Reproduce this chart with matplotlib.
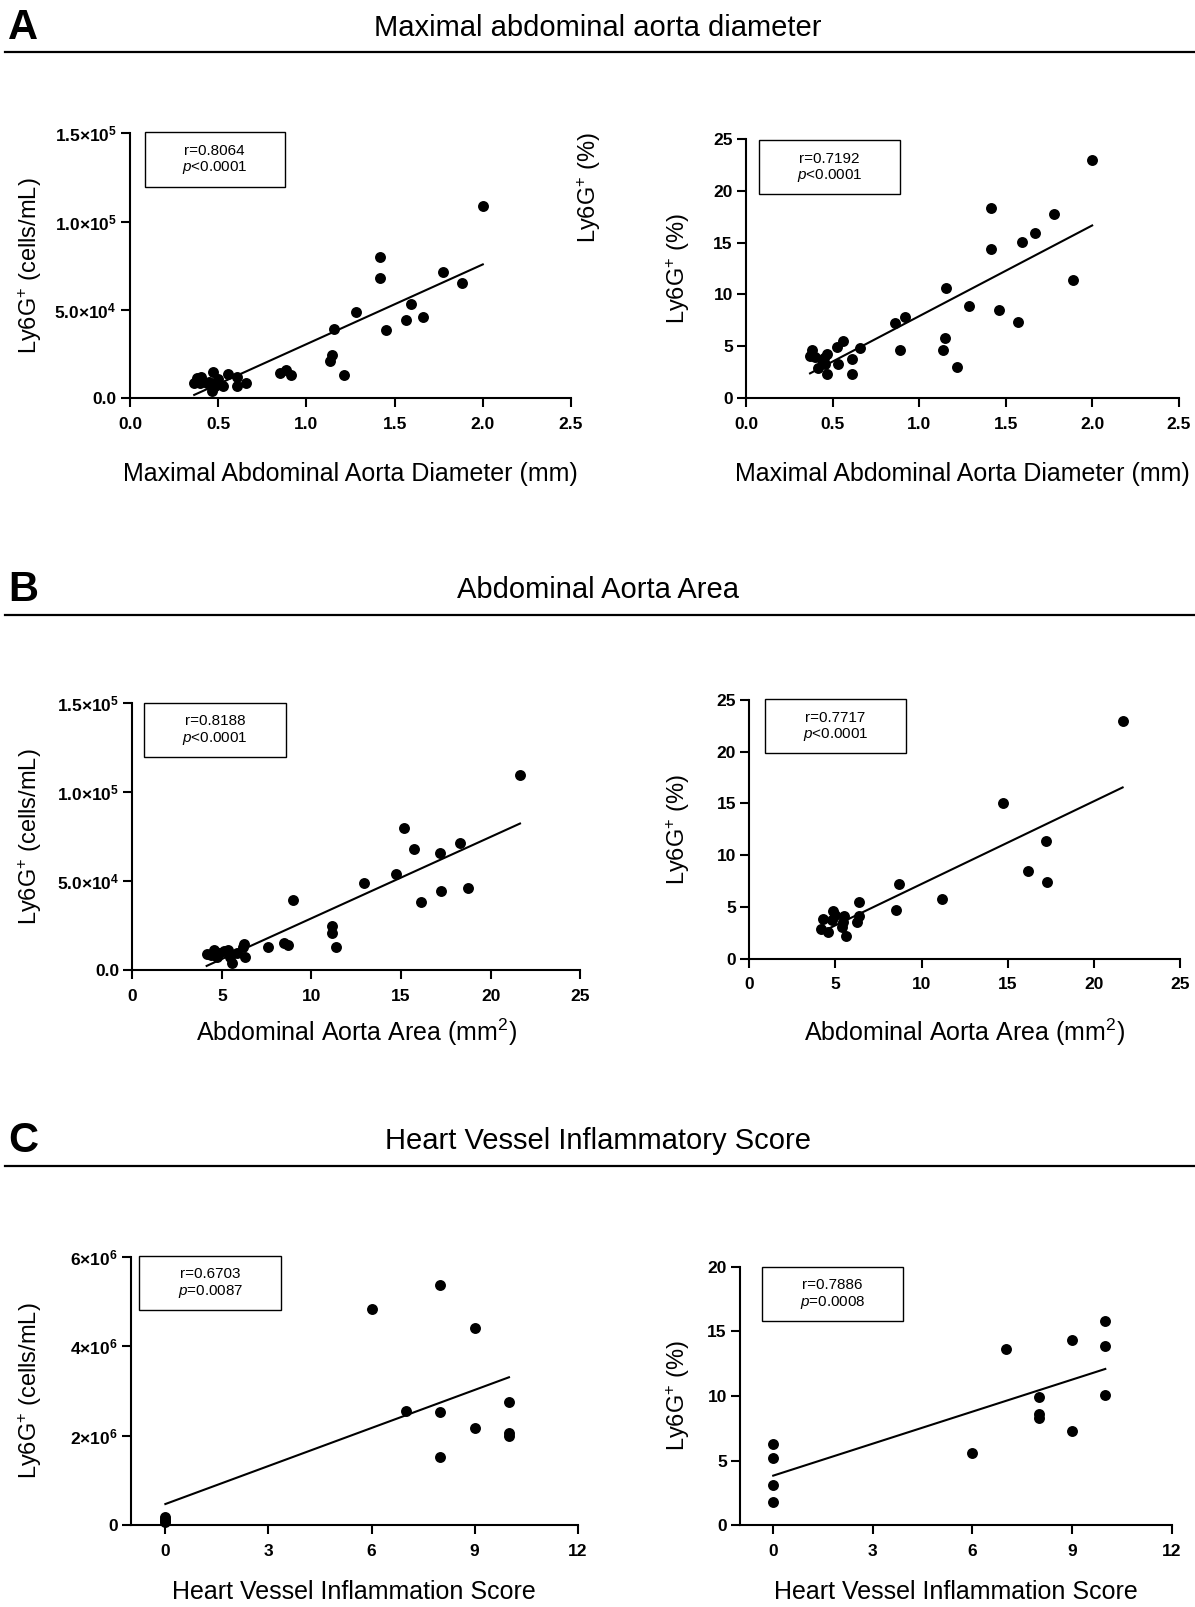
import numpy as np
import matplotlib
matplotlib.use("Agg")
import matplotlib.pyplot as plt
from matplotlib.patches import Rectangle
from matplotlib.lines import Line2D

plt.rcParams['font.family'] = ['Liberation Sans', 'DejaVu Sans']
plt.rcParams['mathtext.fontset'] = 'custom'
plt.rcParams['mathtext.rm'] = 'Liberation Sans'
plt.rcParams['mathtext.it'] = 'Liberation Sans:italic'
plt.rcParams['mathtext.bf'] = 'Liberation Sans:bold'

W, H = 1195, 1607
DPI = 100

# ---------------- data ----------------
# Panel A: maximal abdominal aorta diameter (mm)
xA_cells = [2.0, 1.415, 1.415, 1.774, 1.883, 1.591, 1.660, 1.562, 1.451, 1.283, 1.155, 1.147, 1.132,
            1.213, 0.849, 0.883, 0.915, 0.657, 0.604, 0.604, 0.553, 0.525, 0.472, 0.466, 0.434, 0.377,
            0.364, 0.396, 0.41, 0.45, 0.50, 0.48, 0.40]
yA_cells = [109000, 79800, 67900, 71500, 65500, 53600, 46200, 44300, 38700, 48900, 39200, 24300, 21300,
            13200, 14200, 16000, 13400, 8900, 7200, 12300, 13800, 7200, 14700, 4300, 8500, 11300,
            8500, 8500, 10000, 9500, 11000, 7000, 12000]
xA_pct = [2.0, 1.418, 1.418, 1.780, 1.671, 1.597, 1.890, 1.460, 1.570, 1.289, 1.158, 1.150, 1.141,
          1.218, 0.919, 0.859, 0.890, 0.659, 0.611, 0.611, 0.563, 0.526, 0.530, 0.470, 0.470, 0.382,
          0.370, 0.418, 0.437, 0.40, 0.455, 0.45]
yA_pct = [22.97, 18.37, 14.38, 17.76, 15.96, 15.06, 11.36, 8.49, 7.37, 8.88, 10.65, 5.76, 4.67,
          2.99, 7.79, 7.21, 4.67, 4.86, 3.76, 2.35, 5.50, 4.96, 3.25, 4.21, 2.32, 4.63,
          4.05, 2.86, 3.67, 4.0, 3.3, 3.9]

# Panel B: abdominal aorta area (mm2)
xB_cells = [21.64, 15.16, 15.72, 18.29, 17.17, 14.70, 18.72, 17.25, 16.11, 12.95, 8.97, 11.16, 11.16,
            11.39, 7.59, 8.45, 8.67, 6.23, 6.31, 4.15, 4.58, 4.71, 4.86, 5.36, 5.45, 5.58, 5.82,
            6.20, 4.40, 5.10]
yB_cells = [109400, 79900, 67700, 71500, 65500, 53700, 46000, 44100, 38300, 48800, 39100, 24700, 21000,
            13100, 13100, 15000, 13800, 14600, 7500, 9000, 11200, 7500, 9700, 11200, 7500, 3700, 9400,
            13100, 8500, 10500]
xB_pct = [21.67, 14.73, 17.20, 16.16, 17.26, 8.67, 8.53, 11.20, 6.37, 6.37, 6.27, 4.88, 5.50, 5.42,
          4.30, 4.14, 4.59, 4.78, 5.36, 5.61, 4.97]
yB_pct = [23.0, 15.08, 11.37, 8.51, 7.38, 7.18, 4.67, 5.77, 5.48, 4.16, 3.51, 4.64, 4.16, 3.58,
          3.80, 2.87, 2.55, 3.74, 3.03, 2.22, 4.2]

# Panel C: heart vessel inflammation score
xC_cells = [8, 6, 9, 7, 8, 10, 9, 10, 10, 8, 0, 0, 0, 0]
yC_cells = [5.37e6, 4.84e6, 4.40e6, 2.55e6, 2.53e6, 2.74e6, 2.18e6, 2.05e6, 1.99e6, 1.53e6,
            0.18e6, 0.14e6, 0.10e6, 0.06e6]
xC_pct = [10, 10, 10, 9, 9, 7, 8, 8, 8, 6, 0, 0, 0, 0]
yC_pct = [15.80, 13.87, 10.08, 14.30, 7.32, 13.61, 9.95, 8.63, 8.32, 5.62, 6.26, 5.23, 3.09, 1.83]

stats = [("r=0.8064", "<0.0001"), ("r=0.7192", "<0.0001"),
         ("r=0.8188", "<0.0001"), ("r=0.7717", "<0.0001"),
         ("r=0.6703", "=0.0087"), ("r=0.7886", "=0.0008")]

titles = ["Maximal abdominal aorta diameter", "Abdominal Aorta Area", "Heart Vessel Inflammatory Score"]
letters = ["A", "B", "C"]
xlabels = ["Maximal Abdominal Aorta Diameter (mm)", "Abdominal Aorta Area (mm$^{2}$)", "Heart Vessel Inflammation Score"]
ylabel_cells = "Ly6G$^{+}$ (cells/mL)"
ylabel_pct = "Ly6G$^{+}$ (%)"

xticks_A = [0.0, 0.5, 1.0, 1.5, 2.0, 2.5]
xticklabels_A = ["0.0", "0.5", "1.0", "1.5", "2.0", "2.5"]
xticks_B = [0, 5, 10, 15, 20, 25]
xticks_C = [0, 3, 6, 9, 12]
yticks_cellsAB = [0, 5e4, 1e5, 1.5e5]
yticklabels_cellsAB = ["0.0", "5.0×10$^{\\mathbf{4}}$", "1.0×10$^{\\mathbf{5}}$", "1.5×10$^{\\mathbf{5}}$"]
yticks_cellsC = [0, 2e6, 4e6, 6e6]
yticklabels_cellsC = ["0", "2×10$^{\\mathbf{6}}$", "4×10$^{\\mathbf{6}}$", "6×10$^{\\mathbf{6}}$"]
yticks_pct25 = [0, 5, 10, 15, 20, 25]
yticks_pct20 = [0, 5, 10, 15, 20]

# ---------------- layout ----------------
fig = plt.figure(figsize=(W / DPI, H / DPI), dpi=DPI)


def fx(x):
    return x / W


def fy(y):
    return 1 - y / H


def add_ax(l, r, t, b):
    return fig.add_axes([fx(l), fy(b), (r - l) / W, (b - t) / H])


# section headers
for letter, title, ytxt, yline in zip(letters, titles, [28, 590, 1141], [51.5, 615, 1166]):
    fig.text(fx(8), fy(ytxt), letter, fontsize=30, fontweight='bold', ha='left', va='center')
    fig.text(fx(598), fy(ytxt), title, fontsize=21, ha='center', va='center')
    fig.add_artist(Line2D([fx(5), fx(1195)], [fy(yline), fy(yline)], color='black', lw=1.6,
                          transform=fig.transFigure))

panels = [
    ((130, 571, 133.3, 398.3), xA_cells, yA_cells, (0, 2.5), (0, 1.5e5), xticks_A, xticklabels_A,
     yticks_cellsAB, yticklabels_cellsAB, (144.5, 132, 285, 186.5), xlabels[0], ylabel_cells, 30, 473.5),
    ((746, 1178.7, 139, 398), xA_pct, yA_pct, (0, 2.5), (0, 25), xticks_A, xticklabels_A,
     yticks_pct25, [str(v) for v in yticks_pct25], (759, 140, 900, 194.3), xlabels[0], ylabel_pct, 678.5, 473.5),
    ((132.3, 580.2, 702.7, 970), xB_cells, yB_cells, (0, 25), (0, 1.5e5), xticks_B, [str(v) for v in xticks_B],
     yticks_cellsAB, yticklabels_cellsAB, (144, 702.7, 285.7, 756.7), xlabels[1], ylabel_cells, 30, 1032),
    ((749.3, 1180, 700, 958.7), xB_pct, yB_pct, (0, 25), (0, 25), xticks_B, [str(v) for v in xticks_B],
     yticks_pct25, [str(v) for v in yticks_pct25], (765, 699.3, 906, 753.3), xlabels[1], ylabel_pct, 678.5, 1032),
    ((131, 577.7, 1256.7, 1525), xC_cells, yC_cells, (-1, 12), (0, 6e6), xticks_C, [str(v) for v in xticks_C],
     yticks_cellsC, yticklabels_cellsC, (139.3, 1255.7, 281.3, 1310.3), xlabels[2], ylabel_cells, 30, 1592),
    ((740, 1171.7, 1266.7, 1525.3), xC_pct, yC_pct, (-1, 12), (0, 20), xticks_C, [str(v) for v in xticks_C],
     yticks_pct20, [str(v) for v in yticks_pct20], (761.7, 1266.7, 903.3, 1320.7), xlabels[2], ylabel_pct, 678.5, 1592),
]

for i, (box, xs, ys, xl, yl, xt, xtl, yt, ytl, sbox, xlab, ylab, ylx, xly) in enumerate(panels):
    ax = add_ax(*box)
    xs = np.asarray(xs, float)
    ys = np.asarray(ys, float)
    ax.scatter(xs, ys, s=62, color='black', zorder=3, clip_on=False, linewidths=0)
    k, b0 = np.polyfit(xs, ys, 1)
    xx = np.array([xs.min(), xs.max()])
    ax.plot(xx, k * xx + b0, color='black', lw=1.5, zorder=2)
    ax.set_xlim(*xl)
    ax.set_ylim(*yl)
    ax.set_xticks(xt)
    ax.set_xticklabels(xtl, fontweight='bold', fontsize=12.5)
    ax.set_yticks(yt)
    ax.set_yticklabels(ytl, fontweight='bold', fontsize=12.5)
    for s in ['top', 'right']:
        ax.spines[s].set_visible(False)
    for s in ['left', 'bottom']:
        ax.spines[s].set_linewidth(1.5)
    ax.tick_params(axis='both', direction='out', length=6.5, width=1.5)
    ax.tick_params(axis='x', pad=7)
    ax.tick_params(axis='y', pad=3)
    ax.patch.set_alpha(0)
    fig.text(fx((box[0] + box[1]) / 2), fy(xly), xlab, fontsize=18, ha='center', va='center')
    fig.text(fx(ylx), fy((box[2] + box[3]) / 2), ylab, fontsize=17, ha='center', va='center', rotation=90)
    l, t, r, bb = sbox
    fig.add_artist(Rectangle((fx(l), fy(bb)), (r - l) / W, (bb - t) / H, fill=False, lw=1.0,
                             edgecolor='black', transform=fig.transFigure))
    cx = (l + r) / 2
    cy = (t + bb) / 2
    rtxt, ptxt = stats[i]
    fig.text(fx(cx), fy(cy - 8.5), rtxt, fontsize=11, ha='center', va='center')
    fig.text(fx(cx), fy(cy + 8.5), r"$\it{p}$" + ptxt, fontsize=11, ha='center', va='center')

# stray duplicate label present in the original figure
fig.text(fx(589), fy(188), ylabel_pct, fontsize=17, ha='center', va='center', rotation=90)

fig.savefig("out.png", dpi=DPI, facecolor='white')
